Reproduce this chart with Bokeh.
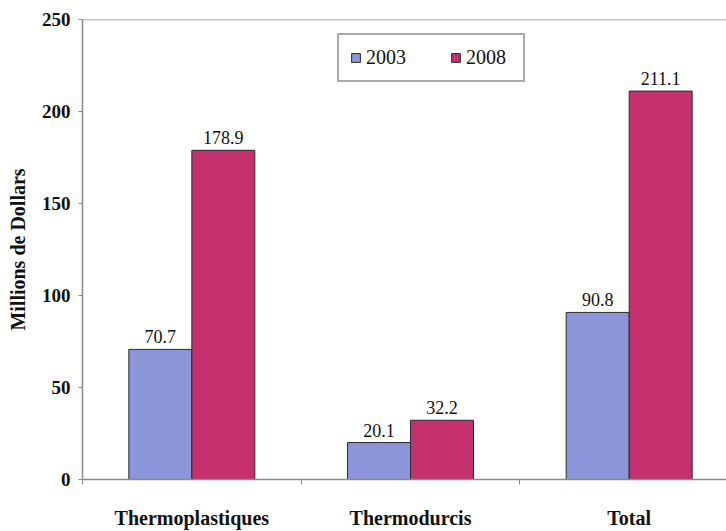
from bokeh.plotting import figure
from bokeh.models import ColumnDataSource, Range1d, FixedTicker, Span, Legend, LegendItem
from bokeh.core.properties import value
from bokeh.embed import file_html
from bokeh.resources import INLINE

categories = ["Thermoplastiques", "Thermodurcis", "Total"]
series_names = ["2003", "2008"]
values_2003 = [70.7, 20.1, 90.8]
values_2008 = [178.9, 32.2, 211.1]
y_ticks = [0, 50, 100, 150, 200, 250]

colors = ["#8C95D9", "#C5316E"]
FONT = "Liberation Serif"
TXT = "#111111"
AXC = "#8a8a8a"

p = figure(width=726, height=531, output_backend="svg", toolbar_location=None,
           x_range=Range1d(0, 2.945), y_range=Range1d(0, 250),
           min_border_left=82, min_border_top=19, min_border_bottom=47, min_border_right=0)
p.outline_line_color = None
p.xgrid.grid_line_color = None
p.ygrid.grid_line_color = None

centers = [i + 0.5 for i in range(len(categories))]
bw = 0.288
renderers = []
for k, vals in enumerate([values_2003, values_2008]):
    off = -bw / 2 if k == 0 else bw / 2
    src = ColumnDataSource(dict(x=[c + off for c in centers], top=vals,
                                lab=["%.1f" % v for v in vals]))
    r = p.vbar(x="x", top="top", bottom=0, width=bw, source=src,
               fill_color=colors[k], line_color="#2a2a2a", line_width=1)
    renderers.append(r)
    p.text(x="x", y="top", text="lab", source=src, text_align="center",
           text_baseline="bottom", y_offset=-6, text_font=value(FONT),
           text_font_size="18px", text_color=TXT)

# top frame line
p.add_layout(Span(location=250, dimension="width", line_color=AXC, line_width=1.5))

# y axis
p.yaxis.ticker = FixedTicker(ticks=y_ticks)
p.yaxis.axis_label = "Millions de Dollars"
p.yaxis.axis_label_text_font = FONT
p.yaxis.axis_label_text_font_style = "bold"
p.yaxis.axis_label_text_font_size = "20px"
p.yaxis.axis_label_text_color = TXT
p.yaxis.axis_label_standoff = 10
p.yaxis.major_label_text_font = FONT
p.yaxis.major_label_text_font_style = "bold"
p.yaxis.major_label_text_font_size = "19px"
p.yaxis.major_label_text_color = TXT
p.yaxis.axis_line_color = AXC
p.yaxis.axis_line_width = 1.5
p.yaxis.major_tick_line_color = AXC
p.yaxis.major_tick_in = 0
p.yaxis.major_tick_out = 4
p.yaxis.minor_tick_line_color = None
p.yaxis.major_label_standoff = 8

# x axis
p.xaxis.ticker = FixedTicker(ticks=centers, minor_ticks=[0, 1, 2, 3])
p.xaxis.major_label_overrides = {c: name for c, name in zip(centers, categories)}
p.xaxis.major_label_text_font = FONT
p.xaxis.major_label_text_font_style = "bold"
p.xaxis.major_label_text_font_size = "20px"
p.xaxis.major_label_text_color = TXT
p.xaxis.major_label_standoff = 22
p.xaxis.axis_line_color = AXC
p.xaxis.axis_line_width = 1.5
p.xaxis.major_tick_line_color = None
p.xaxis.major_tick_out = 0
p.xaxis.major_tick_in = 0
p.xaxis.minor_tick_line_color = AXC
p.xaxis.minor_tick_in = 0
p.xaxis.minor_tick_out = 5

legend = Legend(items=[LegendItem(label=series_names[i], renderers=[renderers[i]]) for i in range(2)],
                orientation="horizontal", location=(255, 397),
                label_text_font=FONT, label_text_font_size="20px", label_text_color=TXT,
                glyph_width=11, glyph_height=11, spacing=38, padding=11,
                label_width=46, label_standoff=5,
                border_line_color="#555555", border_line_width=2,
                margin=0)
p.add_layout(legend)

open("out.html", "w").write(file_html(p, INLINE))
